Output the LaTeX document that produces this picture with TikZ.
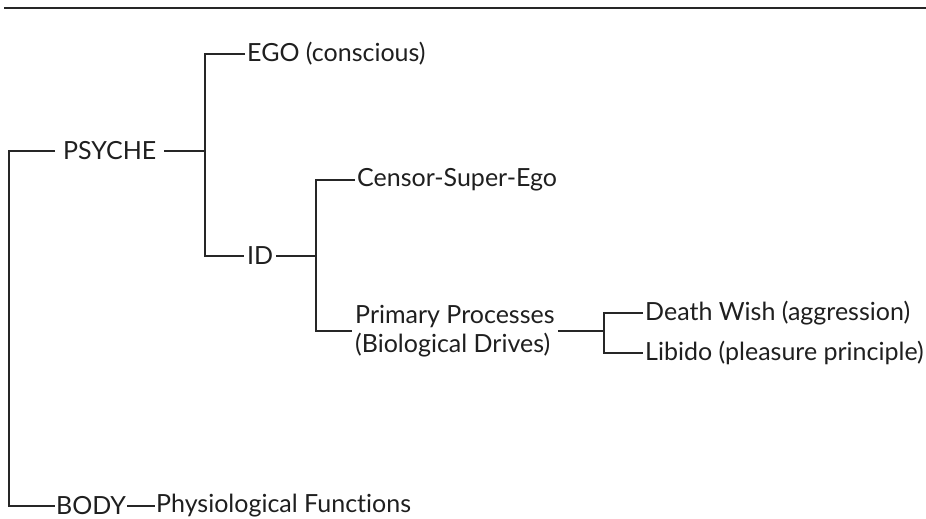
\documentclass[tikz,border=0pt]{standalone}
\usepackage{fontspec}
\setmainfont{Lato}[Ligatures=NoCommon]
\begin{document}
\begin{tikzpicture}[x=1pt,y=-1pt,
  lbl/.style={anchor=west,inner ysep=0pt,inner xsep=2pt,font=\fontsize{25}{29}\selectfont,text=black!88},
  ln/.style={line width=1.3pt,draw=black!85}]
\useasboundingbox (0,0) rectangle (926,519);
\draw[line width=2pt,black!85] (4,8) -- (926,8);
\coordinate (xa) at (9,0);
\coordinate (xb) at (205,0);
\coordinate (xc) at (316,0);
\coordinate (xd) at (604,0);
\node[lbl,inner xsep=8pt] (psyche) at (55,151) {PSYCHE};
\node[lbl] (ego) at (245,54) {EGO (conscious)};
\node[lbl,inner xsep=3pt] (id) at (244,256) {ID};
\node[lbl] (censor) at (355,180) {Censor-Super-Ego};
\node[lbl,align=left,inner xsep=3pt] (primary) at (352,331) {Primary Processes\\(Biological Drives)};
\node[lbl] (death) at (643,313) {Death Wish (aggression)};
\node[lbl] (libido) at (643,353) {Libido (pleasure principle)};
\node[lbl,inner xsep=1pt] (body) at (55,506) {BODY};
\node[lbl,inner xsep=1pt] (phys) at (155,506) {Physiological Functions};
\draw[ln] (psyche.west) -- (psyche.west -| xa) |- (body.west);
\draw[ln] (psyche.east) -- (psyche.east -| xb);
\draw[ln] (ego.west) -| (xb |- id.west) -- (id.west);
\draw[ln] (id.east) -- (id.east -| xc);
\draw[ln] (censor.west) -| (xc |- primary.west) -- (primary.west);
\draw[ln] (primary.east) -- (primary.east -| xd);
\draw[ln] (death.west) -| (xd |- libido.west) -- (libido.west);
\draw[ln] (body.east) -- (phys.west);
\end{tikzpicture}
\end{document}
